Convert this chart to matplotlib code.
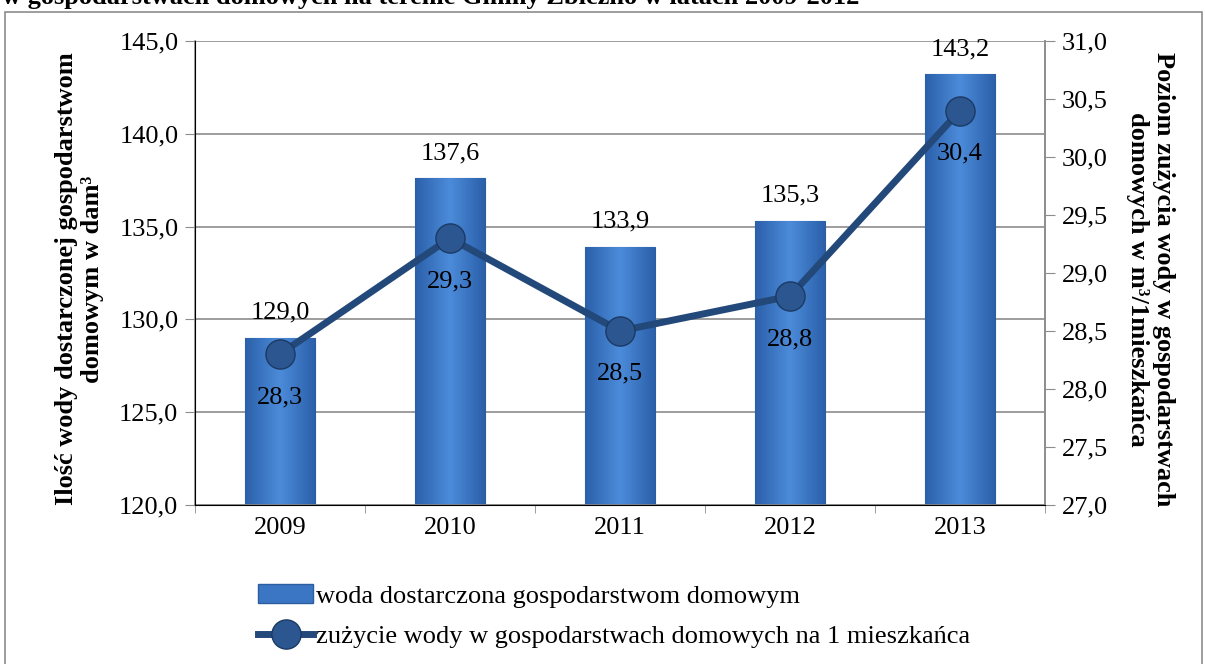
import matplotlib.pyplot as plt
import matplotlib.patches as mpatches
from matplotlib.lines import Line2D
from matplotlib.colors import LinearSegmentedColormap
import numpy as np

plt.rcParams['font.family'] = ['Liberation Serif', 'DejaVu Serif']

years = ['2009', '2010', '2011', '2012', '2013']
water_supplied = [129.0, 137.6, 133.9, 135.3, 143.2]
usage_per_person = [28.3, 29.3, 28.5, 28.8, 30.4]

FS = 19

def fmt(v):
    return f'{v:.1f}'.replace('.', ',')

fig = plt.figure(figsize=(12.05, 6.64), dpi=100)
ax = fig.add_axes([0.1618, 0.2395, 0.7054, 0.6988])
ax2 = ax.twinx()

x = np.arange(len(years))
bars = ax.bar(x, water_supplied, width=0.41, color='#3a76c4',
              edgecolor='#2c5d9e', linewidth=0.8, zorder=2)

# soft horizontal gradient inside every bar
grad = np.linspace(0, 1, 64)
grad = 1 - np.abs(grad - 0.5) * 2
grad = np.vstack([grad, grad])
cmap = LinearSegmentedColormap.from_list('bar', ['#2c60aa', '#4b8bd9'])
for b in bars:
    x0, w, h = b.get_x(), b.get_width(), b.get_height()
    im = ax.imshow(grad, cmap=cmap, aspect='auto', extent=[x0, x0 + w, 120, h],
                   zorder=2.1, interpolation='bicubic')
    im.set_clip_path(b)

for xi, v in zip(x, water_supplied):
    ax.text(xi, v + 1.35, fmt(v), ha='center', va='center', fontsize=FS, zorder=5)

ax.set_ylim(120, 145)
ax.set_yticks(np.arange(120, 146, 5))
ax.set_yticklabels([fmt(t) for t in np.arange(120, 146, 5)], fontsize=FS)
ax.set_xlim(-0.5, 4.5)
ax.set_xticks(x)
ax.set_xticklabels(years, fontsize=FS)
ax.set_xticks(np.arange(-0.5, 5, 1), minor=True)
ax.tick_params(axis='x', which='major', length=0, pad=9)
ax.tick_params(axis='x', which='minor', length=6, color='#8c8c8c')
ax.tick_params(axis='y', length=7, color='#8c8c8c', pad=5)
ax.grid(axis='y', color='#8c8c8c', linewidth=1.2, zorder=0)
ax.set_axisbelow(True)
ax.spines['top'].set_visible(False)
for s in ['left', 'bottom', 'right']:
    ax.spines[s].set_color('#8c8c8c')
    ax.spines[s].set_linewidth(1.2)

ax2.plot(x, usage_per_person, color='#23497b', linewidth=5, zorder=3,
         marker='o', markersize=21, markerfacecolor='#2c5690',
         markeredgecolor='#1b3a64', markeredgewidth=1)
for xi, v in zip(x, usage_per_person):
    ax2.text(xi, v - 0.37, fmt(v), ha='center', va='center', fontsize=FS, zorder=5)
ax2.set_ylim(27, 31)
ax2.set_yticks(np.arange(27, 31.01, 0.5))
ax2.set_yticklabels([fmt(t) for t in np.arange(27, 31.01, 0.5)], fontsize=FS)
ax2.tick_params(axis='y', length=7, color='#8c8c8c', pad=5)
ax2.spines['top'].set_visible(False)
ax2.spines['right'].set_color('#8c8c8c')
ax2.spines['right'].set_linewidth(1.2)

fig.text(0.066, 0.58, 'Ilość wody dostarczonej gospodarstwom\ndomowym w dam³',
         rotation=90, ha='center', va='center', fontsize=FS, fontweight='bold',
         linespacing=1.2)
fig.text(0.955, 0.58, 'Poziom zużycia wody w gospodarstwach\ndomowych w m³/1mieszkańca',
         rotation=-90, ha='center', va='center', fontsize=FS, fontweight='bold',
         linespacing=1.15)

# title line cut by the upper edge
fig.text(0.002, 1.004, 'w gospodarstwach domowych na terenie Gminy Zbiczno w latach 2009-2012',
         ha='left', va='center', fontsize=FS, fontweight='bold')

# frame around the chart area
fig.patches.append(mpatches.Rectangle((0.0045, -0.01), 0.993, 0.992, transform=fig.transFigure,
                                      fill=False, edgecolor='#8c8c8c', linewidth=1.2))

handles = [mpatches.Patch(facecolor='#3a76c4', edgecolor='#2c5d9e'),
           Line2D([], [], color='#23497b', linewidth=5, marker='o', markersize=21,
                  markerfacecolor='#2c5690', markeredgecolor='#1b3a64')]
labels = ['woda dostarczona gospodarstwom domowym',
          'zużycie wody w gospodarstwach domowych na 1 mieszkańca']
fig.legend(handles, labels, loc='upper left', bbox_to_anchor=(0.214, 0.12),
           frameon=False, fontsize=FS, handlelength=2.1, handletextpad=0.1,
           labelspacing=0.65, borderaxespad=0, borderpad=0)

fig.savefig('out.png', dpi=100)
